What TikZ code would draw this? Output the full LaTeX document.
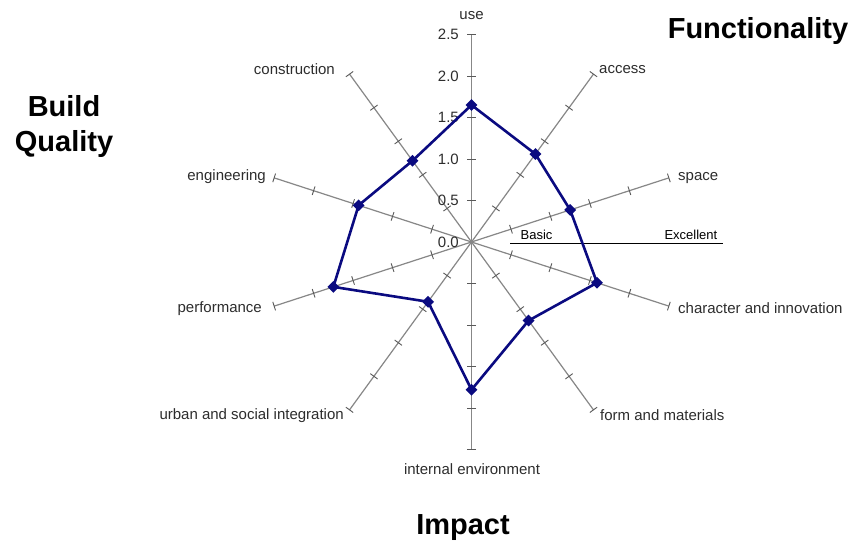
\documentclass[tikz,border=0pt]{standalone}
\usepackage{fontspec}
\setmainfont{Liberation Sans}
\usetikzlibrary{shapes.geometric}
\definecolor{navy}{RGB}{10,10,128}
\definecolor{axisgray}{RGB}{135,135,135}
\definecolor{labelgray}{RGB}{45,45,45}
\begin{document}
\begin{tikzpicture}[x=1pt,y=1pt,
  axisline/.style={draw=axisgray, line width=1.2pt},
  tickmark/.style={draw=black!65, line width=0.9pt},
  lbl/.style={font=\fontsize{15}{18}\selectfont, text=labelgray, inner sep=0pt},
  numlbl/.style={lbl, anchor=east},
  titlelbl/.style={font=\fontsize{29}{35}\selectfont\bfseries, inner sep=0pt, anchor=base},
  datapt/.style={diamond, fill=navy, inner sep=0pt, minimum size=12pt},
  dataline/.style={draw=navy, line width=2.6pt, line join=round},
  scaleline/.style={draw=black, line width=1pt},
  scalelbl/.style={font=\fontsize{13}{15}\selectfont, inner sep=0pt}]
\useasboundingbox (0,0) rectangle (857,549);
\fill[white] (0,0) rectangle (857,549);
\coordinate (C) at (471.5,307);
% axes
\foreach \i in {0,...,9}{
  \path (C) ++({90-36*\i}:207.5) coordinate (e\i);
  \draw[axisline] (C) -- (e\i);
  \begin{scope}[shift={(471.5,307)}, rotate={-36*\i}]
    \foreach \k in {1,...,5} \draw[tickmark] (-4.5,{41.5*\k}) -- (4.5,{41.5*\k});
  \end{scope}
}
% scale numbers
\foreach \k/\t in {0/0.0,1/0.5,2/1.0,3/1.5,4/2.0,5/2.5}
  \node[numlbl] (n\k) at (459,{307+41.5*\k}) {\t};
% axis labels
\node[lbl] (use) at (471.5,533) {use};
\node[lbl, anchor=west] (access) at (599,479) {access};
\node[lbl, anchor=west] (space) at (678,371) {space};
\node[lbl, anchor=west] (char) at (678,241) {character and innovation};
\node[lbl, anchor=west] (form) at (600,134) {form and materials};
\node[lbl] (internal) at (472,80) {internal environment};
\node[lbl, anchor=east] (urban) at (344,133) {urban and social integration};
\node[lbl, anchor=east] (perf) at (262,240) {performance};
\node[lbl, anchor=east] (eng) at (266,372) {engineering};
\node[lbl, anchor=east] (constr) at (335,480) {construction};
% basic / excellent scale
\coordinate (s1) at (510,305.7);
\coordinate (s2) at (723,305.7);
\draw[scaleline] (s1) -- (s2);
\node[scalelbl, anchor=base west] (basic) at (520.5,309.5) {Basic};
\node[scalelbl, anchor=base east] (excellent) at (717.5,309.5) {Excellent};
% data
\foreach \v [count=\i from 0] in {1.65,1.31,1.25,1.59,1.17,1.78,0.89,1.75,1.43,1.21}
  \path (C) ++({90-36*\i}:{83*\v}) coordinate (p\i);
\draw[dataline] (p0) -- (p1) -- (p2) -- (p3) -- (p4) -- (p5) -- (p6) -- (p7) -- (p8) -- (p9) -- cycle;
\foreach \i in {0,...,9} \node[datapt] (m\i) at (p\i) {};
% titles
\node[titlelbl] (func) at (758,510) {Functionality};
\node[titlelbl] (build) at (64,432) {Build};
\node[titlelbl] (quality) at (64,397) {Quality};
\node[titlelbl] (impact) at (463,14) {Impact};
\end{tikzpicture}
\end{document}
